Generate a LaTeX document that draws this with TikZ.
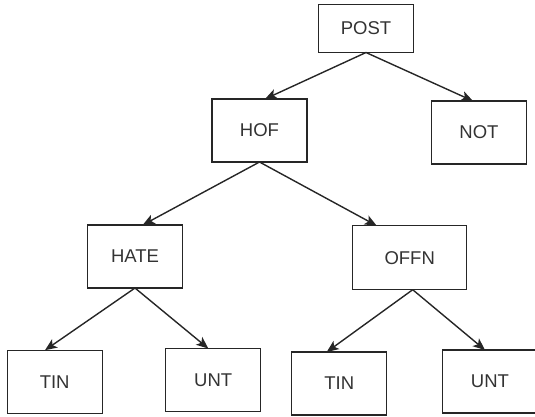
\documentclass[tikz,border=0pt]{standalone}
\usepackage{fontspec}
\setmainfont{Liberation Sans}
\usetikzlibrary{arrows.meta}
\begin{document}
\begin{tikzpicture}[x=1pt,y=-1pt,
  box/.style={draw=black!85,line width=1.4pt,minimum width=95pt,minimum height=63pt,inner sep=0pt,outer sep=0pt,font=\fontsize{18.5}{21}\selectfont,text=black!80},
  conn/.style={draw=black!85,line width=1.4pt,-{Stealth[length=12pt,width=10pt,inset=3pt]}}]
\useasboundingbox (0,0) rectangle (535,416);
\node[box,minimum height=48pt] (post) at (366,28.5) {POST};
\node[box] (hof) at (259.5,130.5) {HOF};
\node[box] (not) at (479,132.5) {NOT};
\node[box] (hate) at (135,256.5) {HATE};
\node[box,minimum width=114pt,minimum height=64pt] (offn) at (409.7,257.7) {OFFN};
\node[box] (tin1) at (54.7,381.7) {TIN};
\node[box] (unt1) at (213.2,380) {UNT};
\node[box] (tin2) at (339.2,383.5) {TIN};
\node[box] (unt2) at (490,381.5) {UNT};
\draw[conn] (post.south) -- ([xshift=5.5pt]hof.north);
\draw[conn] (post.south) -- ([xshift=-6pt]not.north);
\draw[conn] (hof.south) -- ([xshift=7.7pt]hate.north);
\draw[conn] (hof.south) -- ([xshift=-33pt]offn.north);
\draw[conn] (hate.south) -- ([xshift=-9.7pt]tin1.north);
\draw[conn] (hate.south) -- ([xshift=-4.9pt]unt1.north);
\draw[conn] ([xshift=3pt]offn.south) -- ([xshift=-12.5pt]tin2.north);
\draw[conn] ([xshift=3pt]offn.south) -- ([xshift=-5pt]unt2.north);
\end{tikzpicture}
\end{document}
